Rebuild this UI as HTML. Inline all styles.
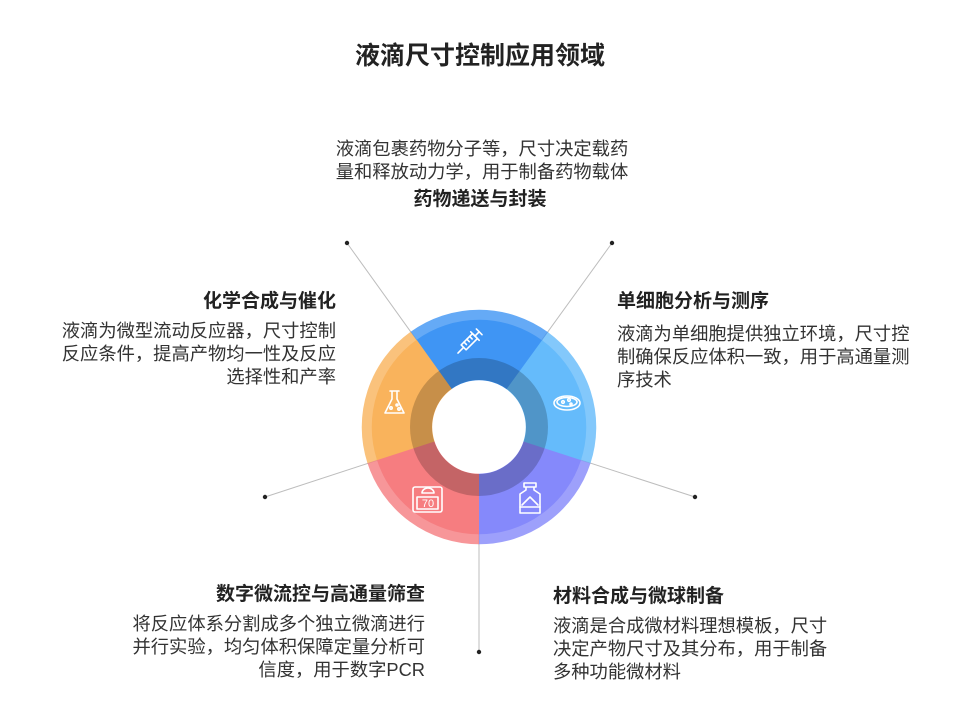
<!DOCTYPE html>
<html><head><meta charset="utf-8"><style>
body{margin:0;width:955px;height:715px;background:#fff;position:relative;overflow:hidden;font-family:"Liberation Sans","Noto Sans CJK SC",sans-serif;color:#333}
.t{position:absolute;white-space:nowrap}
.h{font-size:19px;font-weight:bold;line-height:28px;color:#222}
.b{font-size:18.3px;line-height:23px;color:#333}
</style></head><body>
<div class="t" style="left:0;width:960px;top:41px;text-align:center;font-size:25px;font-weight:bold;line-height:30px;color:#222">液滴尺寸控制应用领域</div>

<svg width="955" height="715" style="position:absolute;left:0;top:0">
<g stroke="#bdbdbd" stroke-width="1">
<line x1="347" y1="243" x2="479" y2="427"/>
<line x1="612" y1="243" x2="479" y2="427"/>
<line x1="265" y1="497" x2="479" y2="427"/>
<line x1="695" y1="497" x2="479" y2="427"/>
<line x1="479" y1="652" x2="479" y2="427"/>
</g>
<g fill="#222">
<circle cx="347" cy="243" r="2.2"/><circle cx="612" cy="243" r="2.2"/>
<circle cx="265" cy="497" r="2.2"/><circle cx="695" cy="497" r="2.2"/>
<circle cx="479" cy="652" r="2.2"/>
</g>
<g transform="translate(479,427)" fill="none">
<circle r="47" fill="#fff" stroke="none"/>
<g stroke-width="10.5" opacity="0.8">
<circle r="112" stroke="#3f95f4" stroke-dasharray="141.3 1000" transform="rotate(-126)"/>
<circle r="112" stroke="#65bbfb" stroke-dasharray="141.3 1000" transform="rotate(-54)"/>
<circle r="112" stroke="#8589fb" stroke-dasharray="141.3 1000" transform="rotate(18)"/>
<circle r="112" stroke="#f67d80" stroke-dasharray="141.3 1000" transform="rotate(90)"/>
<circle r="112" stroke="#f9b35c" stroke-dasharray="141.3 1000" transform="rotate(162)"/>
</g>
<g stroke-width="60.5">
<circle r="77" stroke="#3f95f4" stroke-dasharray="97.3 1000" transform="rotate(-126)"/>
<circle r="77" stroke="#65bbfb" stroke-dasharray="97.3 1000" transform="rotate(-54)"/>
<circle r="77" stroke="#8589fb" stroke-dasharray="97.3 1000" transform="rotate(18)"/>
<circle r="77" stroke="#f67d80" stroke-dasharray="97.3 1000" transform="rotate(90)"/>
<circle r="77" stroke="#f9b35c" stroke-dasharray="97.3 1000" transform="rotate(162)"/>
</g>
<circle r="58" stroke="#000" stroke-opacity="0.2" stroke-width="22"/>
</g>
<g stroke="#fff" stroke-width="1.6" fill="none" stroke-linecap="round" stroke-linejoin="round">
<g transform="translate(470,341) rotate(-45)">
<rect x="-9" y="-3.5" width="16" height="7"/><line x1="-9" y1="0" x2="-17" y2="0"/>
<line x1="7" y1="-6" x2="7" y2="6"/><line x1="7" y1="0" x2="13" y2="0"/><line x1="13" y1="-4" x2="13" y2="4"/>
<line x1="-5" y1="-3.5" x2="-5" y2="0"/><line x1="-1" y1="-3.5" x2="-1" y2="0"/><line x1="3" y1="-3.5" x2="3" y2="0"/>
</g>
<ellipse cx="567" cy="403" rx="13" ry="7"/><ellipse cx="567" cy="402" rx="10" ry="4.5"/>
<circle cx="563" cy="402" r="1.3"/><circle cx="569" cy="400" r="1.3"/><circle cx="571" cy="404" r="1"/>
<path d="M390 391 h9 M392 391 v8 l-7 14 h19 l-7 -14 v-8"/>
<circle cx="391" cy="408" r="1.2"/><circle cx="397" cy="405" r="1"/><circle cx="399" cy="409" r="1.2"/>
<rect x="413" y="487" width="29" height="25" rx="2"/><path d="M422 493 a6 5 0 0 1 12 0 z"/>
<rect x="417" y="497" width="21" height="12"/>
<path d="M524 483 h12 v4 h-12 z M526 487 v3 l-6 4 v19 h20 v-19 l-6 -4 v-3"/>
<path d="M522 505 l8 -8 l8 8"/><line x1="520" y1="507" x2="540" y2="507"/>
</g>
<text x="428" y="507" font-size="11" fill="#fff" text-anchor="middle" font-family="Liberation Sans,sans-serif">70</text>
</svg>

<div class="t b" style="left:0;width:964px;text-align:center;top:137px">液滴包裹药物分子等，尺寸决定载药<br>量和释放动力学，用于制备药物载体</div>
<div class="t h" style="left:0;width:960px;text-align:center;top:186px">药物递送与封装</div>

<div class="t h" style="right:619px;text-align:right;top:288px">化学合成与催化</div>
<div class="t b" style="right:619px;text-align:right;top:319px">液滴为微型流动反应器，尺寸控制<br>反应条件，提高产物均一性及反应<br>选择性和产率</div>

<div class="t h" style="left:617px;top:288px">单细胞分析与测序</div>
<div class="t b" style="left:617px;top:322px">液滴为单细胞提供独立环境，尺寸控<br>制确保反应体积一致，用于高通量测<br>序技术</div>

<div class="t h" style="right:530px;text-align:right;top:581px">数字微流控与高通量筛查</div>
<div class="t b" style="right:530px;text-align:right;top:612px">将反应体系分割成多个独立微滴进行<br>并行实验，均匀体积保障定量分析可<br>信度，用于数字PCR</div>

<div class="t h" style="left:553px;top:583px">材料合成与微球制备</div>
<div class="t b" style="left:553px;top:614px">液滴是合成微材料理想模板，尺寸<br>决定产物尺寸及其分布，用于制备<br>多种功能微材料</div>
</body></html>
